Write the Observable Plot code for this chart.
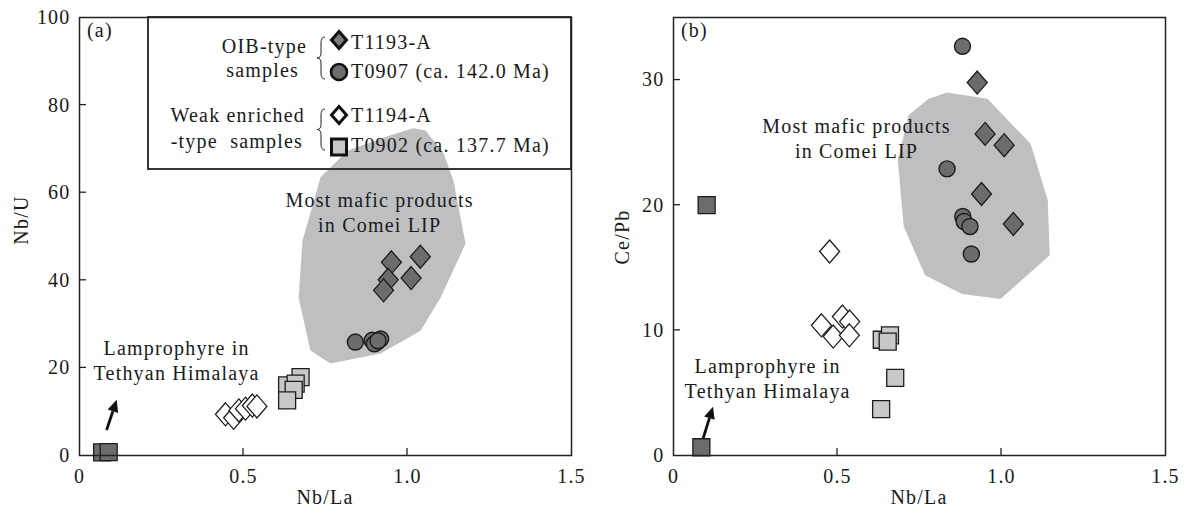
<!DOCTYPE html>
<html><head><meta charset="utf-8">
<script src="https://cdn.jsdelivr.net/npm/d3@7"></script>
<script src="https://cdn.jsdelivr.net/npm/@observablehq/plot@0.6"></script>
<style>
body{margin:0;background:#fff;}
#wrap{display:flex;width:1184px;height:510px;overflow:hidden;}
</style></head><body><div id="wrap"></div>
<script>
// ---- tick values / labels ----
const xTicks = [0, 0.5, 1.0, 1.5];
const xTickLabels = ["0", "0.5", "1.0", "1.5"];
const yTicksA = [0, 20, 40, 60, 80, 100];
const yTicksB = [0, 10, 20, 30];

// ---- panel (a): Nb/La vs Nb/U ----
const a_T1193A = [[0.951,44.1],[1.039,45.4],[0.941,40.1],[1.011,40.5],[0.927,37.7]];
const a_T0907  = [[0.841,25.9],[0.892,26.3],[0.918,26.6],[0.907,25.9],[0.899,25.5],[0.910,26.2]];
const a_T1194A = [[0.445,9.4],[0.470,8.6],[0.486,10.3],[0.506,10.7],[0.527,11.4],[0.541,11.2]];
const a_T0902  = [[0.674,17.9],[0.633,16.0],[0.659,16.4],[0.653,15.0],[0.633,12.6]];
const a_lamp   = [[0.069,0.7],[0.089,0.75]];
const a_field  = [[1.018,74.7],[1.055,74.2],[1.110,69.0],[1.140,62.8],[1.177,48.4],[1.101,36.1],[1.040,28.5],[0.918,23.3],[0.765,21.0],[0.704,24.0],[0.668,36.1],[0.680,49.1],[0.735,63.5],[0.817,69.6],[0.948,73.1]];

// ---- panel (b): Nb/La vs Ce/Pb ----
const b_T1193A = [[0.926,29.8],[0.950,25.7],[1.008,24.8],[0.939,20.9],[1.036,18.5]];
const b_T0907  = [[0.881,32.7],[0.834,22.9],[0.882,19.1],[0.886,18.7],[0.904,18.3],[0.908,16.1]];
const b_T1194A = [[0.476,16.3],[0.451,10.4],[0.515,11.1],[0.487,9.5],[0.537,10.7],[0.536,9.6]];
const b_T0902  = [[0.635,9.25],[0.660,9.6],[0.653,9.1],[0.676,6.2],[0.633,3.7]];
const b_lamp   = [[0.101,20.0],[0.085,0.66]];
const b_field  = [[0.834,29.0],[0.957,28.5],[1.089,24.9],[1.141,20.4],[1.147,16.0],[0.997,12.5],[0.880,12.9],[0.767,14.4],[0.702,18.3],[0.684,23.6],[0.717,27.2],[0.778,28.5]];

// annotation texts
const fieldLabel = "Most mafic products\nin Comei LIP";
const lampLabel = "Lamprophyre in\nTethyan Himalaya";

const FONT = "'Liberation Serif','Times New Roman',serif";
const DARK = "#6c6c6c", LIGHT = "#c8c8c8", FIELD = "#bebfc1", INK = "#1c1c1c";

const diamondSym = {draw(c){c.moveTo(0,-11.5);c.lineTo(10,0);c.lineTo(0,11.5);c.lineTo(-10,0);c.closePath();}};
const squareSym = {draw(c){c.rect(-8.5,-8.5,17,17);}};

const P = d => ({x: d[0], y: d[1]});

function panel(o) {
  const svg = Plot.plot({
    width: 592, height: 510,
    marginLeft: o.ml, marginRight: o.mr, marginTop: 17, marginBottom: 55,
    style: {fontFamily: FONT, fontSize: "20px", letterSpacing: "1.2px", color: "#1a1a1a", background: "#fff", overflow: "visible"},
    x: {domain: [0, 1.5]},
    y: {domain: o.ydom},
    marks: [
      Plot.line(o.field.map(P), {x: "x", y: "y", curve: "linear-closed", fill: FIELD, stroke: "none"}),
      Plot.dot(o.T0902.map(P), {x: "x", y: "y", symbol: squareSym, fill: LIGHT, stroke: INK, strokeWidth: 1.3}),
      Plot.dot(o.T1194A.map(P), {x: "x", y: "y", symbol: diamondSym, fill: "#fff", stroke: INK, strokeWidth: 1.3}),
      Plot.dot(o.T0907.map(P), {x: "x", y: "y", r: 8, fill: DARK, stroke: INK, strokeWidth: 1.4}),
      Plot.dot(o.T1193A.map(P), {x: "x", y: "y", symbol: diamondSym, fill: DARK, stroke: INK, strokeWidth: 1.3}),
      Plot.dot(o.lamp.map(P), {x: "x", y: "y", symbol: squareSym, fill: DARK, stroke: INK, strokeWidth: 1.3}),
      Plot.text([fieldLabel], {x: o.fieldTxt[0], y: o.fieldTxt[1], text: d => d, lineHeight: 1.25, fontSize: 20}),
      Plot.text([lampLabel], {x: o.lampTxt[0], y: o.lampTxt[1], text: d => d, lineHeight: 1.25, fontSize: 20}),
      Plot.frame({stroke: "#222", strokeWidth: 1.5}),
      Plot.axisX({ticks: xTicks, tickFormat: (d, i) => xTickLabels[i], tickSize: 0, tickPadding: 13, label: null, fontSize: 20}),
      Plot.axisY({ticks: o.yticks, tickFormat: d => String(d), tickSize: 0, tickPadding: 9, label: null, fontSize: 20})
    ]
  });
  const sx = svg.scale("x"), sy = svg.scale("y");
  const g = d3.select(svg).append("g").attr("fill", "#1a1a1a").attr("stroke", "none");
  // inward ticks
  const y0 = sy.apply(0), x0 = sx.apply(0);
  xTicks.slice(1, -1).forEach(t => g.append("line").attr("x1", sx.apply(t)).attr("x2", sx.apply(t)).attr("y1", y0).attr("y2", y0 - 7).attr("stroke", "#222").attr("stroke-width", 1.3));
  o.yticks.slice(1).forEach(t => { if (sy.apply(t) > 20) g.append("line").attr("x1", x0).attr("x2", x0 + 7).attr("y1", sy.apply(t)).attr("y2", sy.apply(t)).attr("stroke", "#222").attr("stroke-width", 1.3); });
  // arrow
  const [ax1, ay1, ax2, ay2] = [sx.apply(o.arrow[0]), sy.apply(o.arrow[1]), sx.apply(o.arrow[2]), sy.apply(o.arrow[3])];
  const ang = Math.atan2(ay2 - ay1, ax2 - ax1);
  const hl = 12, hw = 5.5;
  const bx = ax2 - hl * Math.cos(ang), by = ay2 - hl * Math.sin(ang);
  g.append("line").attr("x1", ax1).attr("y1", ay1).attr("x2", bx).attr("y2", by).attr("stroke", "#111").attr("stroke-width", 2.8);
  g.append("path").attr("fill", "#111").attr("d", `M${ax2},${ay2}L${bx - hw*Math.sin(ang)},${by + hw*Math.cos(ang)}L${bx + hw*Math.sin(ang)},${by - hw*Math.cos(ang)}Z`);
  // panel letter
  g.append("text").attr("x", x0 + 8).attr("y", 37).attr("text-anchor", "start").text(o.letter);
  // axis titles
  const fx = (sx.apply(0) + sx.apply(1.5)) / 2;
  g.append("text").attr("x", fx).attr("y", 504).attr("text-anchor", "middle").text("Nb/La");
  g.append("text").attr("transform", `translate(${o.ytx},${o.yty}) rotate(-90)`).attr("text-anchor", "middle").attr("dy", "0.35em").text(o.ytitle);
  return svg;
}

const A = panel({ml: 79, mr: 21, ydom: [0, 100], yticks: yTicksA,
  field: a_field, T1193A: a_T1193A, T0907: a_T0907, T1194A: a_T1194A, T0902: a_T0902, lamp: a_lamp,
  fieldTxt: [0.915, 55.6], lampTxt: [0.296, 22.0], arrow: [0.084, 5.7, 0.115, 12.6],
  letter: "(a)", ytitle: "Nb/U", ytx: 21, yty: 220});
const B = panel({ml: 81, mr: 19, ydom: [0, 35], yticks: yTicksB,
  field: b_field, T1193A: b_T1193A, T0907: b_T0907, T1194A: b_T1194A, T0902: b_T0902, lamp: b_lamp,
  fieldTxt: [0.558, 25.4], lampTxt: [0.287, 6.2], arrow: [0.092, 1.34, 0.122, 3.86],
  letter: "(b)", ytitle: "Ce/Pb", ytx: 30, yty: 237});

// ---- legend in panel (a) ----
(function legend() {
  const g = d3.select(A).append("g").attr("fill", "#1a1a1a");
  g.append("rect").attr("x", 148).attr("y", 17).attr("width", 423).attr("height", 152).attr("fill", "none").attr("stroke", "#222").attr("stroke-width", 1.8);
  const lab = (x, y, t, anchor) => g.append("text").attr("x", x).attr("y", y).attr("text-anchor", anchor).style("white-space", "pre").text(t);
  lab(307, 52.7, "OIB-type", "end");
  lab(299, 76.7, "samples", "end");
  lab(305, 121.7, "Weak enriched", "end");
  lab(303, 148, "-type  samples", "end");
  lab(351, 49.3, "T1193-A", "start");
  lab(351, 77.5, "T0907 (ca. 142.0 Ma)", "start");
  lab(351, 121.7, "T1194-A", "start");
  lab(351, 152, "T0902 (ca. 137.7 Ma)", "start");
  const dia = (cx, cy, fill) => g.append("path").attr("d", `M${cx},${cy-8.5}L${cx+7.5},${cy}L${cx},${cy+8.5}L${cx-7.5},${cy}Z`).attr("fill", fill).attr("stroke", "#111").attr("stroke-width", 3).attr("stroke-linejoin", "miter");
  dia(339, 40, "#7a7a7a");
  g.append("circle").attr("cx", 339).attr("cy", 72).attr("r", 8).attr("fill", DARK).attr("stroke", "#111").attr("stroke-width", 2.6);
  dia(339, 115, "#fff");
  g.append("rect").attr("x", 331.5).attr("y", 139).attr("width", 15).attr("height", 16).attr("fill", LIGHT).attr("stroke", "#111").attr("stroke-width", 3);
  const brace = (x, y0, y1) => {
    const ym = (y0 + y1) / 2;
    g.append("path").attr("fill", "none").attr("stroke", "#222").attr("stroke-width", 1)
      .attr("d", `M${x+5},${y0} Q${x+1},${y0} ${x+1},${y0+6} L${x+1},${ym-5} Q${x+1},${ym} ${x-3},${ym} Q${x+1},${ym} ${x+1},${ym+5} L${x+1},${y1-6} Q${x+1},${y1} ${x+5},${y1}`);
  };
  brace(320, 37, 79);
  brace(320, 109, 150);
})();

const wrap = document.getElementById("wrap");
wrap.append(A, B);
</script>
</body></html>
